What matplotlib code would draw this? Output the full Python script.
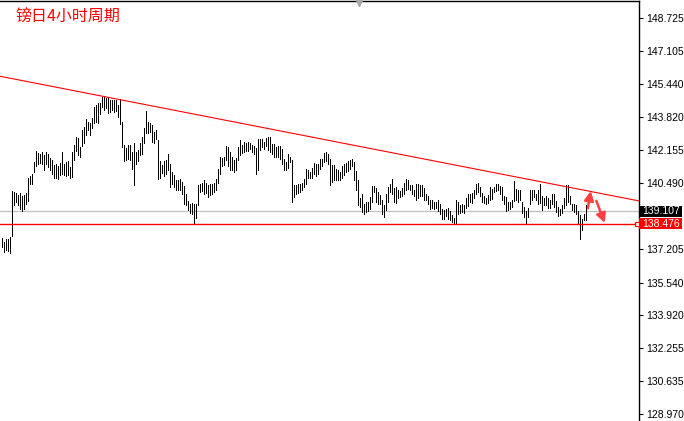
import matplotlib
matplotlib.use('Agg')
import matplotlib.pyplot as plt
from matplotlib.patches import Rectangle
from matplotlib.transforms import blended_transform_factory

# GBP/JPY 4 hour bars: highs and lows, left to right
highs = [
    137.76, 137.56, 137.70, 137.73, 137.81, 140.11, 140.06, 140.00, 139.90, 140.01,
    139.85, 139.90, 140.00, 140.75, 140.85, 140.98, 141.56, 142.11, 142.01, 141.98,
    142.06, 141.90, 142.06, 141.98, 141.78, 141.68, 141.40, 141.45, 141.35, 141.51,
    142.06, 141.45, 141.56, 141.61, 141.31, 142.06, 142.40, 142.81, 142.73, 142.31,
    143.15, 143.31, 143.68, 143.56, 143.48, 143.73, 144.31, 144.40, 144.48, 144.51,
    144.81, 144.85, 144.73, 144.73, 144.65, 144.65, 144.65, 144.65, 144.40, 144.68,
    143.56, 142.40, 142.23, 142.40, 142.40, 142.06, 142.48, 142.06, 142.15, 142.48,
    142.81, 143.23, 144.11, 143.56, 143.48, 143.40, 143.06, 143.15, 142.65, 141.61,
    141.40, 141.61, 141.68, 141.95, 141.45, 141.06, 140.90, 140.68, 140.65, 140.73,
    140.56, 140.35, 139.95, 139.61, 139.45, 139.51, 139.45, 139.48, 140.40, 140.48,
    140.51, 140.68, 140.51, 140.40, 140.48, 140.48, 140.51, 140.73, 141.23, 141.81,
    141.78, 141.81, 142.35, 142.28, 142.06, 141.81, 141.65, 141.78, 142.31, 142.65,
    142.40, 142.56, 142.51, 142.56, 142.51, 142.40, 142.35, 142.23, 142.68, 142.68,
    142.68, 142.56, 142.73, 142.81, 142.81, 142.45, 142.45, 142.31, 142.35, 142.35,
    142.18, 141.73, 141.56, 141.95, 141.81, 141.65, 140.40, 140.40, 140.45, 140.48,
    140.51, 140.73, 141.23, 141.15, 141.06, 141.28, 141.51, 141.48, 141.45, 141.73,
    141.73, 142.01, 142.06, 141.95, 141.73, 141.40, 141.40, 141.23, 141.15, 141.06,
    141.35, 141.45, 141.51, 141.61, 141.65, 141.73, 141.56, 141.11, 140.65, 139.78,
    139.95, 139.48, 139.56, 139.56, 139.81, 140.35, 140.35, 140.28, 140.06, 139.90,
    139.65, 139.40, 139.98, 140.31, 140.48, 140.73, 140.28, 140.31, 140.15, 140.11,
    140.28, 140.51, 140.73, 140.65, 140.40, 140.40, 140.18, 140.48, 140.48, 140.40,
    140.40, 140.28, 139.98, 139.85, 139.68, 139.65, 139.56, 139.56, 139.65, 139.48,
    139.23, 139.18, 139.23, 139.28, 139.11, 138.90, 138.78, 139.65, 139.56, 139.40,
    139.45, 139.40, 139.78, 139.98, 139.98, 140.01, 140.18, 140.45, 140.51, 140.31,
    140.01, 139.85, 139.78, 139.90, 140.31, 140.23, 140.31, 140.48, 140.45, 140.35,
    140.31, 139.85, 139.81, 139.56, 139.56, 139.68, 140.61, 140.23, 140.18, 140.15,
    139.56, 139.31, 139.11, 139.28, 140.15, 140.15, 140.18, 139.98, 140.15, 140.45,
    139.85, 139.78, 139.85, 139.78, 139.68, 139.98, 139.95, 139.61, 139.31, 139.23,
    139.40, 139.78, 140.40, 140.40, 139.85, 139.48, 139.45, 139.40, 139.11, 138.90,
    138.73, 138.95, 139.40,
]
lows = [
    137.31, 137.06, 137.15, 137.11, 137.01, 137.85, 139.40, 139.56, 139.40, 139.23,
    139.11, 139.23, 139.48, 139.61, 140.45, 140.48, 141.06, 141.35, 141.45, 141.51,
    141.45, 141.15, 141.45, 141.31, 141.15, 140.95, 140.78, 140.78, 140.73, 140.90,
    140.98, 140.90, 140.85, 140.90, 140.78, 140.81, 141.65, 142.11, 141.90, 141.81,
    142.35, 142.48, 142.90, 143.15, 142.90, 143.23, 143.48, 143.56, 143.48, 143.95,
    144.31, 144.15, 144.23, 143.98, 144.06, 144.15, 144.06, 144.11, 143.80, 143.45,
    142.31, 141.61, 141.65, 141.73, 141.65, 141.23, 140.40, 141.45, 141.61, 141.90,
    141.98, 142.51, 142.98, 143.01, 143.06, 142.56, 142.48, 142.68, 140.73, 140.78,
    141.01, 140.85, 140.98, 141.15, 140.31, 140.45, 140.31, 140.18, 140.18, 140.15,
    139.95, 139.48, 139.40, 139.15, 139.01, 138.98, 138.51, 138.78, 139.40, 140.06,
    140.11, 139.95, 140.01, 139.81, 139.90, 139.98, 140.06, 140.18, 140.51, 140.98,
    141.35, 141.40, 141.65, 141.35, 141.15, 141.18, 141.06, 141.15, 141.68, 141.90,
    142.01, 142.06, 142.11, 142.11, 142.18, 142.06, 141.98, 140.98, 141.18, 142.15,
    142.31, 142.18, 142.35, 142.15, 142.06, 141.98, 141.81, 141.81, 141.81, 141.73,
    141.48, 141.18, 141.15, 141.28, 141.56, 139.56, 139.81, 139.98, 140.01, 140.06,
    140.15, 140.31, 140.48, 140.78, 140.78, 140.78, 140.98, 140.85, 140.98, 141.23,
    141.35, 141.56, 141.61, 141.45, 140.40, 140.56, 140.68, 140.68, 140.68, 140.65,
    140.78, 140.90, 141.06, 141.11, 141.23, 141.35, 140.65, 140.15, 139.40, 139.31,
    139.06, 138.95, 139.06, 139.11, 139.23, 139.56, 140.06, 139.56, 139.45, 139.45,
    138.98, 138.81, 139.15, 139.56, 140.06, 139.98, 139.56, 139.51, 139.78, 139.81,
    139.85, 139.98, 140.15, 140.23, 140.15, 139.95, 139.85, 139.65, 139.78, 139.85,
    139.85, 139.68, 139.68, 139.45, 139.23, 139.28, 139.23, 139.28, 139.11, 138.98,
    138.73, 138.73, 138.85, 138.73, 138.68, 138.56, 138.48, 138.48, 138.98, 139.01,
    139.06, 139.01, 139.28, 139.35, 139.56, 139.51, 139.78, 139.98, 140.06, 139.85,
    139.56, 139.51, 139.48, 139.51, 139.65, 139.73, 140.06, 140.11, 140.15, 139.98,
    139.65, 139.48, 139.11, 139.18, 139.23, 139.31, 139.61, 139.65, 139.56, 139.65,
    139.01, 138.81, 138.51, 138.81, 139.48, 139.68, 139.81, 139.65, 139.48, 139.51,
    139.15, 139.40, 139.40, 139.28, 139.28, 139.48, 139.31, 139.06, 138.85, 138.90,
    139.01, 139.28, 139.40, 139.56, 139.48, 139.18, 139.06, 138.95, 138.48, 137.73,
    138.18, 138.68, 138.68,
]

# price scale on the right
tick_values = [148.725, 147.105, 145.440, 143.820, 142.155, 140.490,
               137.205, 135.540, 133.920, 132.255, 130.635, 128.970]
bid_price = 139.107
support_price = 138.476

# descending trend line (bar index, price) and the two hint arrows
trend_x = [0, 300]
trend_y = [145.82, 139.98]
arrow_up = [(293.2, 139.25), (294.6, 140.11)]
arrow_down = [(297.4, 139.62), (301.6, 138.52)]

title = '镑日4小时周期'

fig = plt.figure(figsize=(6.84, 4.21), dpi=100)
ax = fig.add_axes([0, 0, 639 / 684, 420 / 421])

# HL bars, 1px wide, crisp like the terminal
xs = list(range(len(highs)))
ax.vlines(xs, lows, highs, color='black', lw=0.72, antialiased=False)

# lines
ax.axhline(bid_price, color='#c0c0c0', lw=0.9, zorder=1)
ax.axhline(support_price, color='red', lw=1.0, zorder=3)
ax.axline((trend_x[0], trend_y[0]), (trend_x[1], trend_y[1]), color='red', lw=0.8, zorder=3)

for (x0, y0), (x1, y1) in [arrow_up, arrow_down]:
    ax.annotate('', xy=(x1, y1), xytext=(x0, y0),
                arrowprops=dict(arrowstyle='-|>,head_width=0.28,head_length=0.55',
                                color='#ff4040', lw=1.8, shrinkA=0, shrinkB=0))

ax.set_xlim(-0.75, 318.75)
ax.set_ylim(128.636, 149.588)

# axis styling (MT4 look)
for side in ['left', 'bottom']:
    ax.spines[side].set_visible(False)
ax.spines['top'].set_linewidth(1.0)
ax.spines['right'].set_linewidth(1.0)
ax.set_xticks([])
ax.yaxis.tick_right()
ax.set_yticks(tick_values)
ax.set_yticklabels(['%.3f' % v for v in tick_values], family='Liberation Sans', fontsize=7.5)
ax.tick_params(axis='y', length=3, width=0.8, pad=2)

# price boxes on the scale
tr = blended_transform_factory(ax.transAxes, ax.transData)
for price, color in [(bid_price, 'black'), (support_price, 'red')]:
    ax.add_patch(Rectangle((1.0, price - 0.27), 0.067, 0.54, transform=tr,
                           facecolor=color, edgecolor='none', clip_on=False, zorder=5))
    ax.text(1.034, price, '%.3f' % price, transform=tr, color='white', ha='center',
            va='center', family='Liberation Sans', fontsize=7.5, zorder=6, clip_on=False)
ax.plot([0.997], [support_price], 's', transform=tr, ms=3.2, mfc='white', mec='red',
        mew=0.8, clip_on=False, zorder=7)

# chart shift marker at the top
ax.plot([0.562], [0.996], 'v', transform=ax.transAxes, ms=5, color='#a8a8a8',
        clip_on=False, zorder=7)

fig.text(15 / 684, 1 - 8 / 421, title, color='red', fontsize=11.5,
         family=['Noto Sans CJK SC', 'DejaVu Sans'], va='top', ha='left')

fig.savefig('out.png', dpi=100)
